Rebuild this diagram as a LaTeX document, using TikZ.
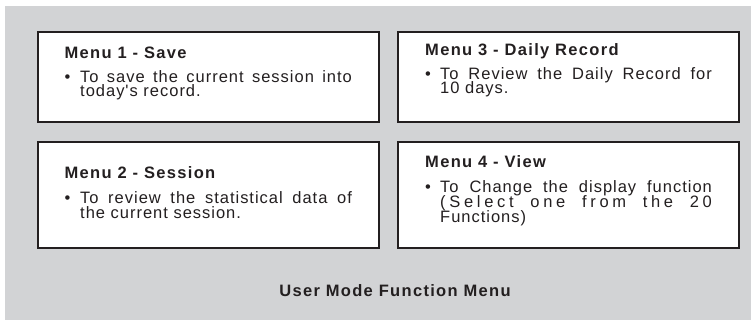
\documentclass[tikz,border=0pt]{standalone}
\usepackage{fontspec}
\setmainfont{Liberation Sans}
\newfontfamily\bodyf[LetterSpace=6]{Liberation Sans}
\newfontfamily\titlef[LetterSpace=8]{Liberation Sans}
\definecolor{bggray}{HTML}{D2D3D5}
\definecolor{ink}{HTML}{231F20}
\newcommand{\jline}[2]{\makebox[#1][s]{#2}}
\newcommand{\lf}{\hspace{0pt plus 1fill}}
\newcommand{\wf}{\ \hspace{0pt plus 3fill}}
\tikzset{
  menubox/.style={draw=ink, line width=2pt, fill=white, inner sep=0pt, outer sep=0pt, anchor=north west},
  ttl/.style={anchor=base west, inner sep=0pt, text=ink, font=\titlef\bfseries\fontsize{16.5}{16.5}\selectfont},
  txt/.style={anchor=base west, inner sep=0pt, text=ink, font=\bodyf\fontsize{16.5}{16.5}\selectfont},
  captext/.style={anchor=base, inner sep=0pt, text=ink, font=\titlef\bfseries\fontsize{16.5}{16.5}\selectfont}
}
\begin{document}
\begin{tikzpicture}[x=1pt,y=-1pt]
\useasboundingbox (0,0) rectangle (751,320);
\fill[bggray] (5,6) rectangle (751,320);
% boxes
\node[menubox, minimum width=341pt, minimum height=90pt] (b1) at (37.5,32.5) {};
\node[menubox, minimum width=341pt, minimum height=90pt] (b3) at (397.5,32.5) {};
\node[menubox, minimum width=341pt, minimum height=105.5pt] (b2) at (37.5,142) {};
\node[menubox, minimum width=341pt, minimum height=105.5pt] (b4) at (397.5,142) {};
% box 1
\node[ttl] (t1) at (64.5,58.5) {Menu 1 - Save};
\node[txt] (u1) at (64.5,82.2) {•};
\node[txt] (l1a) at (80,82.2) {\jline{271.7pt}{To save the current session into}};
\node[txt] (l1b) at (80,97) {today's record.};
% box 3
\node[ttl] (t3) at (425,55.5) {Menu 3 - Daily Record};
\node[txt] (u3) at (425,79.2) {•};
\node[txt] (l3a) at (440,79.2) {\jline{271.7pt}{To Review the Daily Record for}};
\node[txt] (l3b) at (440,94) {10 days.};
% box 2
\node[ttl] (t2) at (64.5,178.5) {Menu 2 - Session};
\node[txt] (u2) at (64.5,203.3) {•};
\node[txt] (l2a) at (80,203.3) {\jline{271.7pt}{To review the statistical data of}};
\node[txt] (l2b) at (80,218.2) {the current session.};
% box 4
\node[ttl] (t4) at (425,168) {Menu 4 - View};
\node[txt] (u4) at (425,193) {•};
\node[txt] (l4a) at (440,193) {\jline{271.7pt}{To Change the display function}};
\node[txt] (l4b) at (440,207.6) {\hbox to 271.7pt{(\lf S\lf e\lf l\lf e\lf c\lf t\wf o\lf n\lf e\wf f\lf r\lf o\lf m\wf t\lf h\lf e\wf 2\lf 0}};
\node[txt] (l4c) at (440,222.2) {Functions)};
% caption
\node[captext] (cp) at (395,296) {User Mode Function Menu};
\end{tikzpicture}
\end{document}
